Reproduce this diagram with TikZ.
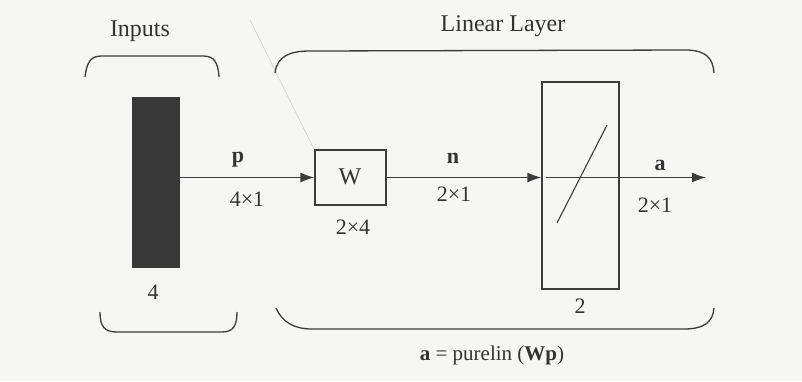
\documentclass[tikz,border=0pt]{standalone}
\usepackage{fontspec}
\setmainfont{Liberation Serif}
\usetikzlibrary{arrows.meta}
\definecolor{bgc}{HTML}{F6F6F4}
\definecolor{inkc}{HTML}{3C3C3C}
\definecolor{txtc}{HTML}{333333}
\tikzset{
  lbl/.style={text=txtc,inner sep=0pt,font=\fontsize{22}{22}\selectfont},
  title/.style={text=txtc,inner sep=0pt,font=\fontsize{24}{24}\selectfont},
  boxline/.style={draw=inkc,line width=1.2pt},
  conn/.style={draw=inkc,line width=1.3pt},
  arr/.style={conn,-{Latex[length=14pt,width=10pt]}},
  brace/.style={draw=inkc,line width=1.3pt}
}
\begin{document}
\begin{tikzpicture}[x=1pt,y=-1pt]
\fill[bgc] (0,0) rectangle (802,381);
\useasboundingbox (0,0) rectangle (802,381);
% faint scan stroke
\draw[gray!40,line width=0.6pt] (250,20) -- (314,149);
% titles
\node[title] (tin) at (140,31) {Inputs};
\node[title] (tlin) at (503,26) {Linear Layer};
% braces
\draw[brace] (85,77) .. controls (87,60) and (92,56) .. (102,56) -- (203,56) .. controls (214,56) and (218,62) .. (219,77);
\draw[brace] (100,312) .. controls (100,326) and (104,332) .. (117,332) -- (222,332) .. controls (233,332) and (237,326) .. (237,312);
\draw[brace] (275,73) .. controls (277,56) and (290,51) .. (310,51) -- (688,50) .. controls (706,51) and (713,58) .. (714,73);
\draw[brace] (276,308) .. controls (282,322) and (294,329) .. (312,329) -- (684,329) .. controls (704,329) and (713,322) .. (714,308);
% input block
\node[fill=inkc!95!black,minimum width=48pt,minimum height=171pt,inner sep=0pt] (inrect) at (156,182.5) {};
\node[lbl] (four) at (153,292) {4};
% weight box
\node[boxline,minimum width=71pt,minimum height=55pt,inner sep=0pt] (W) at (350.5,177.5) {};
\node[text=txtc,inner sep=0pt,font=\fontsize{24}{24}\selectfont] (Wt) at (350,177) {W};
\node[lbl] (wdim) at (353,227) {2\texttimes4};
% transfer box
\node[boxline,minimum width=77pt,minimum height=207pt,inner sep=0pt] (tf) at (580.5,185.5) {};
\node[lbl] (two) at (580,306) {2};
\draw[conn,line width=1.1pt] (557,223) coordinate (s1) -- (607,125) coordinate (s2);
% connectors
\draw[arr] (inrect.east |- W.west) -- (W.west);
\node[lbl] (p) at (238,160) {\textbf{p}};
\node[lbl] (pdim) at (247,199) {4\texttimes1};
\draw[arr] (W.east) -- (W.east -| tf.west);
\node[lbl] (n) at (453,158) {\textbf{n}};
\node[lbl] (ndim) at (454,194) {2\texttimes1};
\coordinate (outstart) at ([xshift=5pt]tf.west |- W.east);
\coordinate (outend) at (706,177.5);
\draw[arr] (outstart) -- (outend);
\node[lbl] (a) at (660,165) {\textbf{a}};
\node[lbl] (adim) at (655,205) {2\texttimes1};
% formula
\node[title,font=\fontsize{21}{21}\selectfont] (eq) at (492,355) {\textbf{a} = purelin (\textbf{Wp})};
\end{tikzpicture}
\end{document}
